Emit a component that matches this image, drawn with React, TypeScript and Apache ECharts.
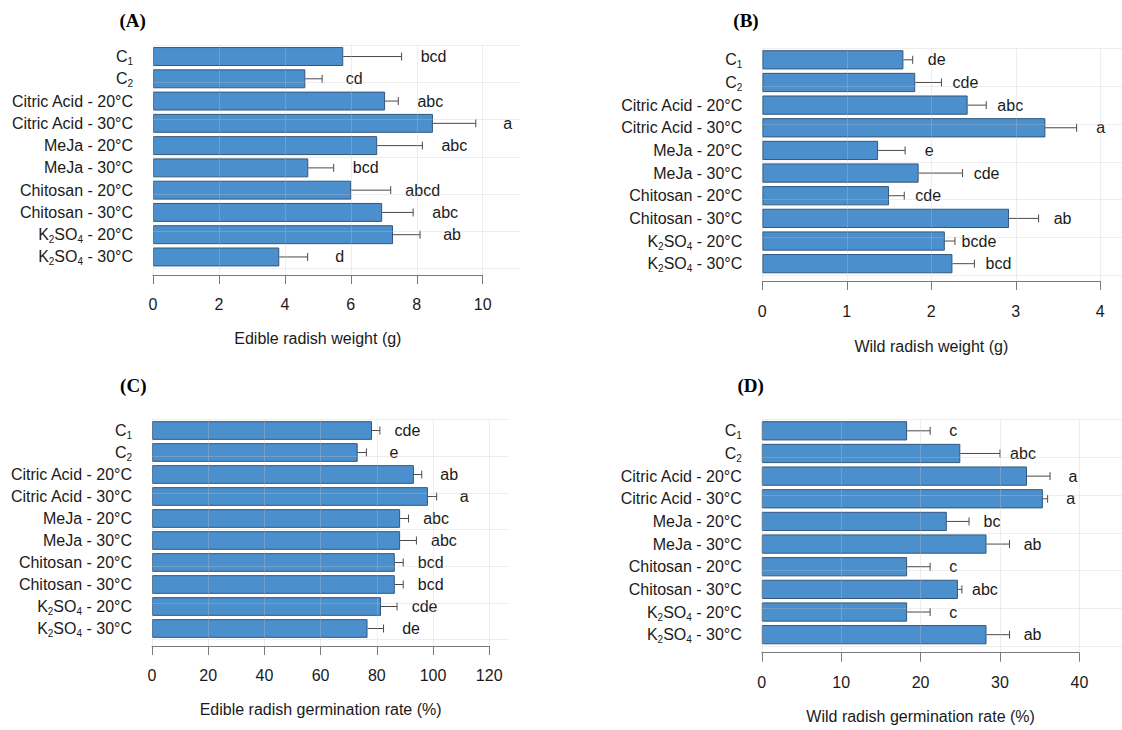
import React, { useEffect, useRef } from 'react';
import * as echarts from 'echarts';

// ---------- data ----------
const categories = [
  'C1',
  'C2',
  'Citric Acid - 20°C',
  'Citric Acid - 30°C',
  'MeJa - 20°C',
  'MeJa - 30°C',
  'Chitosan - 20°C',
  'Chitosan - 30°C',
  'K2SO4 - 20°C',
  'K2SO4 - 30°C',
];

const edibleWeightMean = [5.77, 4.62, 7.04, 8.49, 6.8, 4.71, 6.01, 6.95, 7.28, 3.83];
const edibleWeightSE = [1.77, 0.51, 0.4, 1.3, 1.37, 0.77, 1.2, 0.94, 0.82, 0.86];
const edibleWeightLetters = ['bcd', 'cd', 'abc', 'a', 'abc', 'bcd', 'abcd', 'abc', 'ab', 'd'];

const wildWeightMean = [1.67, 1.81, 2.43, 3.35, 1.37, 1.85, 1.5, 2.92, 2.16, 2.25];
const wildWeightSE = [0.11, 0.31, 0.22, 0.37, 0.32, 0.52, 0.18, 0.35, 0.12, 0.26];
const wildWeightLetters = ['de', 'cde', 'abc', 'a', 'e', 'cde', 'cde', 'ab', 'bcde', 'bcd'];

const edibleGermMean = [78.3, 73.2, 93.2, 98.2, 88.3, 88.3, 86.4, 86.4, 81.5, 76.7];
const edibleGermSE = [2.8, 3.1, 2.8, 3.1, 3.0, 5.8, 3.0, 3.0, 5.7, 5.7];
const edibleGermLetters = ['cde', 'e', 'ab', 'a', 'abc', 'abc', 'bcd', 'bcd', 'cde', 'de'];

const wildGermMean = [18.3, 25.0, 33.4, 35.4, 23.3, 28.3, 18.3, 24.7, 18.3, 28.3];
const wildGermSE = [2.9, 5.0, 2.9, 0.6, 2.8, 2.9, 2.9, 0.5, 2.9, 2.9];
const wildGermLetters = ['c', 'abc', 'a', 'a', 'bc', 'ab', 'c', 'abc', 'c', 'ab'];

const panelTitles = ['(A)', '(B)', '(C)', '(D)'];
const axisTitles = [
  'Edible radish weight (g)',
  'Wild radish weight (g)',
  'Edible radish germination rate (%)',
  'Wild radish germination rate (%)',
];
const axisMaxTicks = [10, 4, 120, 40];
const axisIntervals = [2, 1, 20, 10];

// ---------- layout (pixels) ----------
const layout = [
  { left: 153, top: 45.4, height: 222.7, plotW: 367, axisW: 329.7, axisY: 275, labMargin: 21, nameGap: 55, letterOff: 32, tx: 132.6, ty: 20.7 },
  { left: 762.3, top: 48.5, height: 226.5, plotW: 359.7, axisW: 338, axisY: 281, labMargin: 22.5, nameGap: 57, letterOff: 24, tx: 746, ty: 20 },
  { left: 152, top: 419.5, height: 220, plotW: 357, axisW: 337.2, axisY: 646, labMargin: 21, nameGap: 55, letterOff: 27.5, tx: 133.3, ty: 385 },
  { left: 761.8, top: 419.5, height: 226.5, plotW: 360.2, axisW: 317.6, axisY: 652.7, labMargin: 22, nameGap: 56, letterOff: 23, tx: 750.7, ty: 385 },
];

const FONT = "'Liberation Sans', Arial, Helvetica, sans-serif";
const BAR_COLOR = '#4b8fcd';
const BAR_BORDER = '#33577c';
const GRID_COLOR = 'rgba(200,200,200,0.3)';

function richLabel(s: string): string {
  let m = s.match(/^C(\d)$/);
  if (m) return `{m|C}{s|${m[1]}}`;
  m = s.match(/^K2SO4(.*)$/);
  if (m) return `{m|K}{s|2}{m|SO}{s|4}{m|${m[1]}}`;
  return `{m|${s}}`;
}

function buildOption() {
  const panels = [
    { mean: edibleWeightMean, se: edibleWeightSE, letters: edibleWeightLetters },
    { mean: wildWeightMean, se: wildWeightSE, letters: wildWeightLetters },
    { mean: edibleGermMean, se: edibleGermSE, letters: edibleGermLetters },
    { mean: wildGermMean, se: wildGermSE, letters: wildGermLetters },
  ];

  const grid: any[] = [];
  const xAxis: any[] = [];
  const yAxis: any[] = [];
  const series: any[] = [];
  const graphic: any[] = [];

  panels.forEach((p, k) => {
    const L = layout[k];
    const plotMax = (axisMaxTicks[k] * L.plotW) / L.axisW;
    grid.push({ left: L.left, top: L.top, width: L.plotW, height: L.height, outerBoundsMode: 'none', containLabel: false });
    grid.push({ left: L.left, top: L.top, width: L.axisW, height: L.axisY - L.top, outerBoundsMode: 'none', containLabel: false });

    xAxis.push({ gridIndex: 2 * k, type: 'value', min: 0, max: plotMax, show: false });
    xAxis.push({
      gridIndex: 2 * k + 1,
      type: 'value',
      min: 0,
      max: axisMaxTicks[k],
      interval: axisIntervals[k],
      position: 'bottom',
      z: 3,
      axisLine: { show: true, onZero: false, lineStyle: { color: '#7a7a7a', width: 1 } },
      axisTick: { show: true, length: 9, inside: false, lineStyle: { color: '#7a7a7a', width: 1 } },
      axisLabel: { show: true, margin: L.labMargin, color: '#1a1a1a', fontSize: 16, fontFamily: FONT },
      splitLine: { show: true, lineStyle: { color: GRID_COLOR, width: 1 } },
      name: axisTitles[k],
      nameLocation: 'middle',
      nameGap: L.nameGap,
      nameTextStyle: { color: '#1a1a1a', fontSize: 16, fontFamily: FONT },
    });

    yAxis.push({
      gridIndex: 2 * k,
      type: 'category',
      inverse: true,
      data: categories,
      axisLine: { show: false },
      axisTick: { show: false },
      splitLine: { show: false },
      axisLabel: {
        margin: 20,
        color: '#1a1a1a',
        fontFamily: FONT,
        fontSize: 16,
        formatter: (v: string) => richLabel(v),
        rich: {
          m: { fontSize: 16, fontFamily: FONT, color: '#1a1a1a', lineHeight: 20, verticalAlign: 'middle' },
          s: { fontSize: 10, fontFamily: FONT, color: '#1a1a1a', lineHeight: 10, verticalAlign: 'bottom' },
        },
      },
    });
    yAxis.push({
      gridIndex: 2 * k,
      type: 'value',
      min: 0,
      max: 6,
      interval: 1,
      position: 'right',
      z: 3,
      axisLine: { show: false },
      axisTick: { show: false },
      axisLabel: { show: false },
      splitLine: { show: true, lineStyle: { color: GRID_COLOR, width: 1 } },
    });
    yAxis.push({ gridIndex: 2 * k + 1, type: 'value', show: false });

    series.push({
      type: 'bar',
      xAxisIndex: 2 * k,
      yAxisIndex: 3 * k,
      data: p.mean,
      barCategoryGap: '15%',
      itemStyle: { color: BAR_COLOR, borderColor: BAR_BORDER, borderWidth: 1 },
      silent: true,
    });

    const letters = p.letters;
    const off = L.letterOff;
    series.push({
      type: 'custom',
      xAxisIndex: 2 * k,
      yAxisIndex: 3 * k,
      encode: { x: [0, 2], y: 1 },
      data: p.mean.map((m, i) => [m, i, m + p.se[i]]),
      renderItem: (params: any, api: any) => {
        const idx = api.value(1);
        const a = api.coord([api.value(0), idx]);
        const b = api.coord([api.value(2), idx]);
        const cap = 4;
        return {
          type: 'group',
          children: [
            { type: 'line', shape: { x1: a[0], y1: a[1], x2: b[0], y2: b[1] }, style: { stroke: '#4a4a4a', lineWidth: 1 } },
            { type: 'line', shape: { x1: b[0], y1: b[1] - cap, x2: b[0], y2: b[1] + cap }, style: { stroke: '#4a4a4a', lineWidth: 1 } },
            {
              type: 'text',
              x: b[0] + off,
              y: b[1],
              style: { text: letters[idx], fill: '#1a1a1a', fontSize: 16, fontFamily: FONT, align: 'center', verticalAlign: 'middle' },
            },
          ],
        };
      },
      silent: true,
    });

    graphic.push({
      type: 'text',
      x: L.tx,
      y: L.ty,
      style: {
        text: panelTitles[k],
        fill: '#000',
        fontSize: 19,
        fontWeight: 'bold',
        fontFamily: "'Liberation Serif', 'Times New Roman', serif",
        align: 'center',
        verticalAlign: 'middle',
      },
    });
  });

  return {
    animation: false,
    backgroundColor: '#ffffff',
    grid,
    xAxis,
    yAxis,
    series,
    graphic,
  };
}

export default function App() {
  const ref = useRef<HTMLDivElement>(null);
  useEffect(() => {
    if (!ref.current) return;
    const chart = echarts.init(ref.current, null, { renderer: 'svg' });
    chart.setOption(buildOption() as any);
    return () => chart.dispose();
  }, []);
  return (
    <div
      ref={ref}
      style={{ position: 'absolute', left: 0, top: 0, width: 1122, height: 730, background: '#fff' }}
    />
  );
}
